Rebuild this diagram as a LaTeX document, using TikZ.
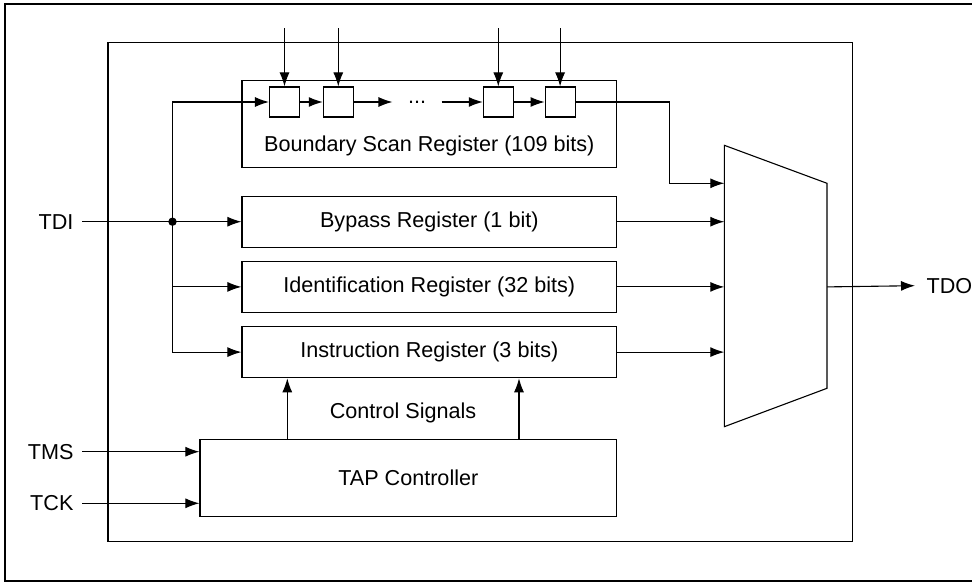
\documentclass[tikz,border=0pt]{standalone}
\usepackage{fontspec}
\setmainfont{Liberation Sans}
\usetikzlibrary{arrows.meta,positioning}

\begin{document}
\begin{tikzpicture}[x=1pt, y=-1pt, line width=1.1pt,
  >={Latex[length=14pt,width=10pt]},
  every node/.style={font=\fontsize{21.6}{25}\selectfont},
  reg/.style={draw, rectangle, minimum width=374.7pt, minimum height=51.3pt, inner sep=0pt},
  bitcell/.style={draw, rectangle, minimum size=30pt, inner sep=0pt},
  portlbl/.style={inner xsep=8pt, inner ysep=0pt}]

\useasboundingbox (0,0) rectangle (972,583);
\draw (990,4) -- (5,4) -- (5,581) -- (990,581);
\draw (108,42.5) rectangle (852.7,541.7);

\node[draw, rectangle, minimum width=374.7pt, minimum height=87pt] (bsr) at (429.3,124.2) {};
\node (bsrtxt) at (429.3,146) {Boundary Scan Register (109 bits)};
\node[bitcell] (c1) at (284.5,102) {};
\node[bitcell, right=22.7pt of c1] (c2) {};
\node[minimum width=48pt, inner sep=0pt] (dots) at (417,102) {...};
\node[bitcell] (c3) at (498.3,102) {};
\node[bitcell, right=30.7pt of c3] (c4) {};

\node[reg] (byp) at (429.3,221.7) {Bypass Register (1 bit)};
\node[reg, below=12.8pt of byp] (idr) {Identification Register (32 bits)};
\node[reg, below=12.8pt of idr] (ins) {Instruction Register (3 bits)};

\node[draw, rectangle, minimum width=416.7pt, minimum height=76.7pt] (tap) at (408.3,477.7) {TAP Controller};
\node (ctl) at (403,413) {Control Signals};

\coordinate (mtl) at (724.3,145.3);
\coordinate (mbl) at (724.3,426.7);
\coordinate (mtr) at (827,183.3);
\coordinate (mbr) at (827,388.3);
\draw (mtl) -- (mtr) -- (mbr) -- (mbl) -- cycle;

\node[anchor=east, portlbl] (tdi) at (82,221.7) {TDI};
\node[anchor=east, portlbl] (tms) at (82,451.7) {TMS};
\node[anchor=east, portlbl] (tck) at (82,503.3) {TCK};
\node[anchor=west, inner xsep=11pt, inner ysep=0pt] (tdo) at (915,285.7) {TDO};

\coordinate (jn) at (172.5,221.7);
\fill (jn) circle (4.2pt);
\draw[->] (tdi.east) -- (byp.west);
\draw[->] (jn) |- (c1.west);
\draw[->] (jn) |- (idr.west);
\draw[->] (jn) |- (ins.west);

\draw[->] (c1) -- (c2);
\draw[->] (c2) -- (dots);
\draw[->] (dots) -- (c3);
\draw[->] (c3) -- (c4);
\foreach \c in {c1,c2,c3,c4}
  \draw[<-] (\c.north) -- ++(0,-58);

\draw[->] (c4.east) -- ++(94,0) |- (mtl |- mtr);
\foreach \r in {byp,idr,ins}
  \draw[->] (\r.east) -- (\r.east -| mtl);
\draw[->] (mtr |- idr.east) -- (tdo.west);

\foreach \x in {287.3,519}
  \draw[->] (\x,0 |- tap.north) -- (\x,0 |- ins.south);
\draw[->] (tms.east) -- (tms.east -| tap.west);
\draw[->] (tck.east) -- (tck.east -| tap.west);

\end{tikzpicture}
\end{document}
